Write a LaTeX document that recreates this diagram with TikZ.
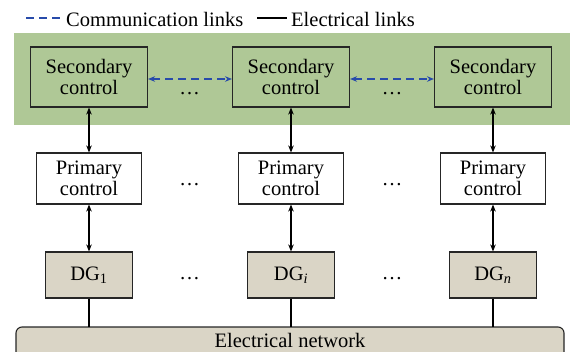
\documentclass[tikz,border=0pt]{standalone}
\usepackage{fontspec}
\setmainfont{Liberation Serif}
\usetikzlibrary{arrows.meta, calc}

\definecolor{bandgreen}{RGB}{175,200,150}
\definecolor{dgfill}{RGB}{218,213,198}
\definecolor{linkblue}{RGB}{40,75,170}

\tikzset{
    every node/.style={font=\fontsize{20.5}{20.5}\selectfont, inner sep=0pt},
    secbox/.style={draw=black!85, line width=1.1pt, fill=bandgreen, align=center,
        minimum width=117pt, minimum height=60pt},
    primbox/.style={draw=black!85, line width=1.1pt, fill=white, align=center,
        minimum width=105pt, minimum height=51pt},
    dgbox/.style={draw=black!85, line width=1.1pt, fill=dgfill,
        minimum width=87pt, minimum height=46pt},
    commlink/.style={linkblue, line width=1.1pt, dash pattern=on 8pt off 5pt},
    elink/.style={black, line width=1.1pt},
    >={Stealth[length=7pt,width=5.5pt]}
}

\begin{document}
\begin{tikzpicture}[x=1pt, y=-1pt]
        \useasboundingbox (0,0) rectangle (570,351);

        % legend
        \draw[commlink] (26,18) -- (63,18);
        \node[anchor=base west] (lcomm) at (66,26) {Communication links};
        \draw[elink] (257,18) -- (287,18);
        \node[anchor=base west] (lelec) at (291,26) {Electrical links};

        % secondary layer
        \fill[bandgreen] (14,33) rectangle (575,125);

        \node[secbox] (s1) at (89,77) {Secondary\\control};
        \node[secbox] (s2) at (291,77) {Secondary\\control};
        \node[secbox] (s3) at (493,77) {Secondary\\control};

        \node[primbox] (p1) at (89,178.5) {Primary\\control};
        \node[primbox] (p2) at (291,178.5) {Primary\\control};
        \node[primbox] (p3) at (493,178.5) {Primary\\control};

        \node[dgbox] (g1) at (89,275) {DG\textsubscript{1}};
        \node[dgbox] (g2) at (291,275) {DG\textsubscript{\itshape i}};
        \node[dgbox] (g3) at (493,275) {DG\textsubscript{\itshape n}};

        \draw[dgfill!100, fill=dgfill, draw=black!85, line width=1.1pt, rounded corners=6pt]
            (16,380) rectangle (564,327);
        \node[anchor=base] (net) at (290,347) {Electrical network};

        % dots
        \node[anchor=base] (d1) at (189.5,94) {\dots};
        \node[anchor=base] (d2) at (392,94) {\dots};
        \node[anchor=base] (d3) at (189.5,185) {\dots};
        \node[anchor=base] (d4) at (392,185) {\dots};
        \node[anchor=base] (d5) at (189.5,279) {\dots};
        \node[anchor=base] (d6) at (392,279) {\dots};

        % links
        \draw[commlink, <->] ([yshift=-2pt]s1.east) -- ([yshift=-2pt]s2.west);
        \draw[commlink, <->] ([yshift=-2pt]s2.east) -- ([yshift=-2pt]s3.west);

        \foreach \i in {1,2,3} {
            \draw[elink, <->] (s\i) -- (p\i);
            \draw[elink, <->] (p\i) -- (g\i);
            \draw[elink] (g\i.south) -- (g\i.south |- 0,327);
        }
    \end{tikzpicture}
\end{document}
